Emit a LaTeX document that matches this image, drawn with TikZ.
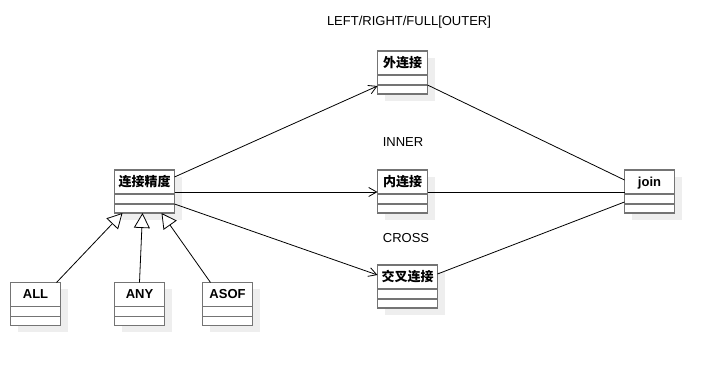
\documentclass[tikz,border=0pt]{standalone}
\usepackage{fontspec}
\setmainfont{Liberation Sans}
\newfontfamily\cjk{Noto Sans CJK SC}
\usepackage{xcolor}
\usepackage{tikz}
\usetikzlibrary{positioning, arrows.meta, shadows}

\definecolor{boxgray}{HTML}{747474}
\definecolor{shadegray}{HTML}{EEEEEE}

% header line and compartment line of a class box
\newcommand{\classlines}[1]{%
    \draw [boxgray, line width=1.8pt] ([yshift=-24pt]#1.north west) -- ([yshift=-24pt]#1.north east);
    \draw [boxgray, line width=1.8pt] ([yshift=-34pt]#1.north west) -- ([yshift=-34pt]#1.north east);
}

\begin{document}
\begin{tikzpicture}[
    x=1pt, y=-1pt,
    classbox/.style={rectangle, draw=boxgray, line width=1.8pt, fill=white,
        minimum width=50pt, inner xsep=2pt, inner ysep=0pt, outer sep=0pt,
        text height=16.5pt, text depth=26.5pt, font=\bfseries\fontsize{13}{15}\selectfont,
        general shadow={fill=shadegray, shadow xshift=7pt, shadow yshift=-7pt}},
    widebox/.style={classbox, minimum width=60pt},
    tag/.style={font=\fontsize{13}{15}\selectfont},
    arrow/.style={-{Straight Barb[length=8pt, width=9pt]}, line width=0.8pt},
    inherit/.style={-{Triangle[open, length=15pt, width=16pt, fill=white]}, line width=0.8pt},
    link/.style={line width=0.8pt}
]
    \useasboundingbox (0,0) rectangle (716,366);

    % Class nodes
    \node (jd)   [widebox] at (144.5,191.5) {\cjk\bfseries 连接精度};
    \node (nlj)  [classbox, right=203pt of jd] {\cjk\bfseries 内连接};
    \node (wlj)  [classbox, above=76pt of nlj] {\cjk\bfseries 外连接};
    \node (jclj) [widebox, anchor=north west] at ([yshift=-52pt]nlj.south west) {\cjk\bfseries 交叉连接};
    \node (join) [classbox, right=197pt of nlj] {join};
    \node (all)  [classbox] at (35.5,304) {ALL};
    \node (any)  [classbox] at (139.5,304) {ANY};
    \node (asof) [classbox] at (227.5,304) {ASOF};

    \foreach \n in {jd, nlj, wlj, jclj, join, all, any, asof} {
        \classlines{\n}
    }

    % Join labels
    \node (outer) [tag] at (409,22) {LEFT/RIGHT/FULL[OUTER]};
    \node (inner) [tag] at (403,142) {INNER};
    \node (cross) [tag] at (406,238) {CROSS};

    % Kinds of join
    \draw [arrow] ([yshift=-7pt]jd.north east) -- ([yshift=-35pt]wlj.north west);
    \draw [arrow] ([yshift=-22pt]jd.north east) -- ([yshift=-22pt]nlj.north west);
    \draw [arrow] ([yshift=-34pt]jd.north east) -- ([yshift=-10pt]jclj.north west);

    % All of them lead to join
    \draw [link] ([yshift=-34pt]wlj.north east) -- ([yshift=-10pt]join.north west);
    \draw [link] ([yshift=-22pt]nlj.north east) -- ([yshift=-22pt]join.north west);
    \draw [link] ([yshift=-9pt]jclj.north east) -- ([yshift=-32pt]join.north west);

    % Precision kinds (generalization)
    \draw [inherit] ([xshift=-4pt]all.north east) -- ([xshift=8pt]jd.south west);
    \draw [inherit] (any.north) -- ([xshift=28pt]jd.south west);
    \draw [inherit] ([xshift=8pt]asof.north west) -- ([xshift=47pt]jd.south west);

\end{tikzpicture}
\end{document}
